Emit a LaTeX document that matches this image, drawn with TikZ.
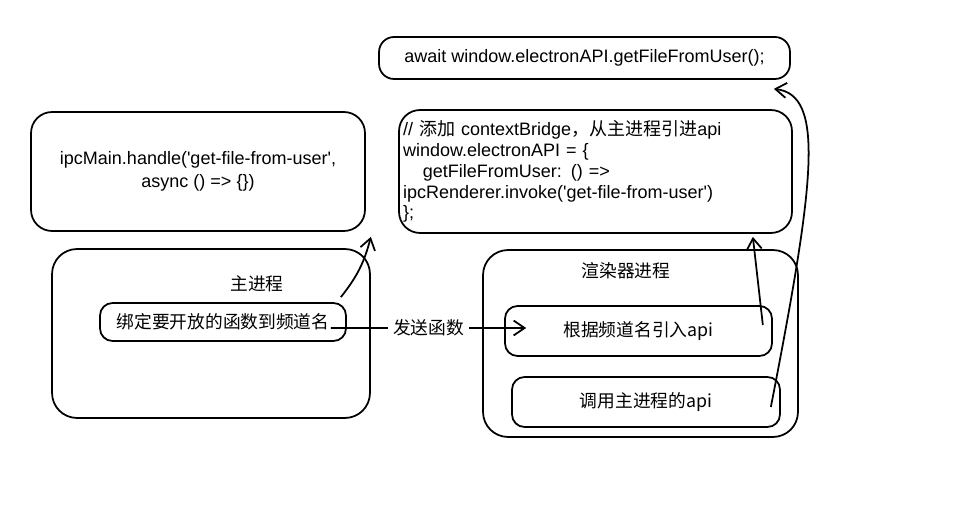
\documentclass[tikz,border=0pt]{standalone}
\usepackage{fontspec}
\setmainfont{Liberation Sans}
\newfontfamily\cjk{Noto Sans CJK SC}
\usetikzlibrary{arrows.meta}

\newcommand{\sq}{\textquotesingle}

\tikzset{
    box/.style={draw, rounded corners=0.42cm, line width=1pt, inner sep=0pt, font=\fontsize{10.25}{13}\selectfont},
    hand/.style={font=\cjk\fontsize{10.1}{12}\selectfont},
    arr/.style={line width=1pt, -{Straight Barb[length=0.22cm, width=0.3cm]}}
}

\begin{document}
\begin{tikzpicture}[x=0.02cm, y=-0.02cm]
        \useasboundingbox (0,0) rectangle (960,509);

        % top boxes
        \node[box, minimum width=8.22cm, minimum height=0.84cm, rounded corners=0.3cm] (await) at (584.5, 58) {await window.electronAPI.getFileFromUser();};
        \node[box, minimum width=7.86cm, minimum height=2.46cm, text width=7.7cm, align=left, inner xsep=0.08cm,
            font=\fontsize{10.25}{11.9}\selectfont] (bridge) at (595.5, 171.5)
            {// {\cjk 添加} contextBridge{\cjk ，从主进程引进}api\\
             window.electronAPI = \{\\
             \hspace*{1.1em}getFileFromUser: () =>\\
             ipcRenderer.invoke(\sq get-file-from-user\sq)\\
             \};};
        \node[box, minimum width=6.68cm, minimum height=2.38cm, align=center] (handle) at (198, 171.5)
            {ipcMain.handle(\sq get-file-from-user\sq,\\ async () => \{\})};

        % main process
        \node[box, minimum width=6.36cm, minimum height=3.38cm, rounded corners=0.5cm] (mainproc) at (211, 333.5) {};
        \node[hand] (mainlabel) at (257, 284) {主进程};
        \node[box, hand, minimum width=4.92cm, minimum height=0.76cm, rounded corners=0.25cm] (bind) at (223, 322) {绑定要开放的函数到频道名};

        % renderer process
        \node[box, minimum width=6.3cm, minimum height=3.74cm, rounded corners=0.5cm] (renderer) at (640.5, 343.5) {};
        \node[hand] (rendlabel) at (626, 271) {渲染器进程};
        \node[box, hand, minimum width=5.34cm, minimum height=1cm, rounded corners=0.25cm] (lookup) at (638.5, 331) {根据频道名引入api};
        \node[box, hand, minimum width=5.36cm, minimum height=1cm, rounded corners=0.25cm] (call) at (646, 402) {调用主进程的api};

        \draw[arr] ([xshift=-0.12cm, yshift=0.1cm]bind.north east) to[bend right=12] ([xshift=0.1cm, yshift=-0.1cm]handle.south east);
        \draw[arr] ([xshift=-0.32cm, yshift=-0.12cm]bind.east) -- node[hand, fill=white, inner sep=3pt] (send) {发送函数} ([xshift=0.44cm, yshift=0.06cm]lookup.west);
        \draw[arr] ([xshift=-0.2cm, yshift=0.12cm]lookup.east) -- ([xshift=-0.8cm, yshift=-0.06cm]bridge.south east);
        \draw[arr] ([xshift=-0.2cm, yshift=-0.1cm]call.east) .. controls (815, 180) and (825, 95) .. ([xshift=-0.34cm, yshift=-0.18cm]await.south east);
    \end{tikzpicture}
\end{document}
